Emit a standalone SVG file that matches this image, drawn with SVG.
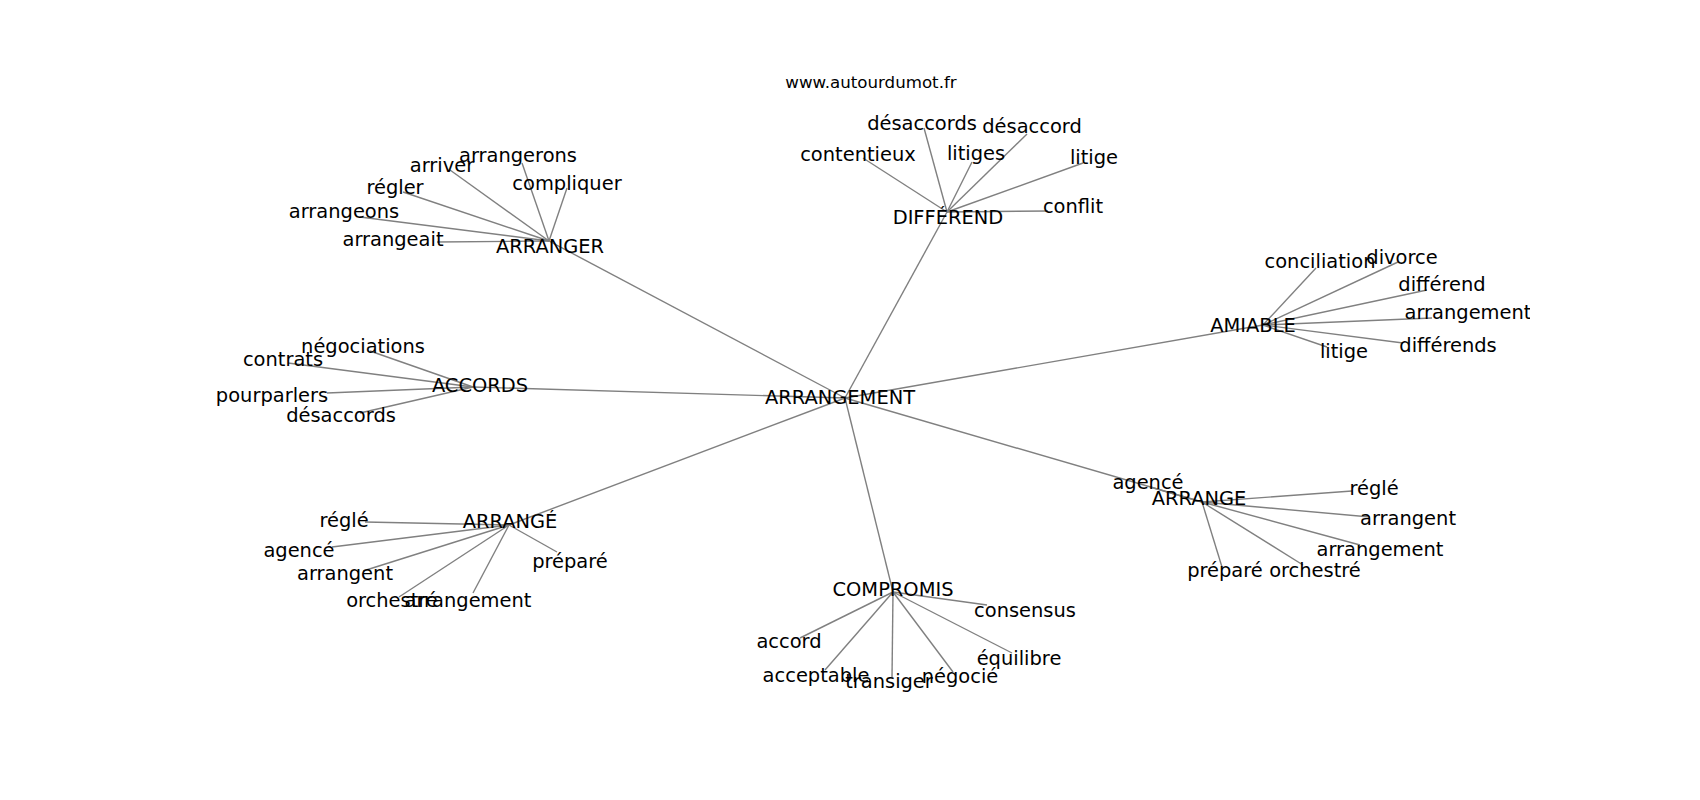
<svg xmlns="http://www.w3.org/2000/svg" width="1700" height="800" viewBox="0 0 1700 800">
<style>
  .edge { stroke: #808080; stroke-width: 1.4; fill: none; stroke-linecap: butt; }
  .lbl { font-family: "DejaVu Sans", "Liberation Sans", sans-serif; font-size: 19.44px; fill: #000; text-anchor: middle; }
  .title { font-family: "DejaVu Sans", "Liberation Sans", sans-serif; font-size: 16.67px; fill: #000; text-anchor: middle; }
</style>
<defs>
  <clipPath id="axes"><rect x="212.5" y="96" width="1317.5" height="616"/></clipPath>
</defs>
<rect x="0" y="0" width="1700" height="800" fill="#fff"/>
<text class="title" x="871" y="88">www.autourdumot.fr</text>
<g id="connectors" clip-path="url(#axes)">
  <!-- central -->
  <line class="edge" x1="845" y1="398" x2="549" y2="241"/>
  <line class="edge" x1="845" y1="398" x2="947" y2="212"/>
  <line class="edge" x1="845" y1="398" x2="1263" y2="325"/>
  <line class="edge" x1="845" y1="398" x2="473" y2="387"/>
  <line class="edge" x1="845" y1="398" x2="509" y2="525"/>
  <line class="edge" x1="845" y1="398" x2="893" y2="592"/>
  <line class="edge" x1="845" y1="398" x2="1202" y2="502"/>
  <!-- ARRANGER -->
  <line class="edge" x1="549" y1="241" x2="522" y2="163"/>
  <line class="edge" x1="549" y1="241" x2="450" y2="170"/>
  <line class="edge" x1="549" y1="241" x2="567" y2="188"/>
  <line class="edge" x1="549" y1="241" x2="403" y2="192"/>
  <line class="edge" x1="549" y1="241" x2="360" y2="217"/>
  <line class="edge" x1="549" y1="241" x2="437" y2="242"/>
  <!-- DIFFÉREND -->
  <line class="edge" x1="947" y1="212" x2="924" y2="128"/>
  <line class="edge" x1="947" y1="212" x2="1027" y2="134"/>
  <line class="edge" x1="947" y1="212" x2="863" y2="158"/>
  <line class="edge" x1="947" y1="212" x2="972" y2="162"/>
  <line class="edge" x1="947" y1="212" x2="1083" y2="163"/>
  <line class="edge" x1="947" y1="212" x2="1048" y2="211"/>
  <!-- AMIABLE -->
  <line class="edge" x1="1263" y1="325" x2="1316" y2="268"/>
  <line class="edge" x1="1263" y1="325" x2="1398" y2="262"/>
  <line class="edge" x1="1263" y1="325" x2="1427" y2="290"/>
  <line class="edge" x1="1263" y1="325" x2="1432" y2="318"/>
  <line class="edge" x1="1263" y1="325" x2="1403" y2="343"/>
  <line class="edge" x1="1263" y1="325" x2="1327" y2="347"/>
  <!-- ACCORDS -->
  <line class="edge" x1="473" y1="387" x2="370" y2="351"/>
  <line class="edge" x1="473" y1="387" x2="288" y2="363"/>
  <line class="edge" x1="473" y1="387" x2="327" y2="393"/>
  <line class="edge" x1="473" y1="387" x2="360" y2="413"/>
  <!-- ARRANGÉ -->
  <line class="edge" x1="509" y1="525" x2="365" y2="522"/>
  <line class="edge" x1="509" y1="525" x2="332" y2="547"/>
  <line class="edge" x1="509" y1="525" x2="363" y2="571"/>
  <line class="edge" x1="509" y1="525" x2="399" y2="597"/>
  <line class="edge" x1="509" y1="525" x2="473" y2="593"/>
  <line class="edge" x1="509" y1="525" x2="557" y2="552"/>
  <!-- COMPROMIS -->
  <line class="edge" x1="893" y1="592" x2="987" y2="605"/>
  <line class="edge" x1="893" y1="592" x2="800" y2="638"/>
  <line class="edge" x1="893" y1="592" x2="1012" y2="653"/>
  <line class="edge" x1="893" y1="592" x2="825" y2="670"/>
  <line class="edge" x1="893" y1="592" x2="892" y2="678"/>
  <line class="edge" x1="893" y1="592" x2="953" y2="672"/>
  <!-- ARRANGE -->
  <line class="edge" x1="1202" y1="502" x2="1150" y2="487"/>
  <line class="edge" x1="1202" y1="502" x2="1352" y2="491"/>
  <line class="edge" x1="1202" y1="502" x2="1370" y2="517"/>
  <line class="edge" x1="1202" y1="502" x2="1360" y2="545"/>
  <line class="edge" x1="1202" y1="502" x2="1222" y2="567"/>
  <line class="edge" x1="1202" y1="502" x2="1303" y2="565"/>
</g>
<g id="labels" clip-path="url(#axes)">
  <g id="n-arrangement"><text class="lbl" x="840" y="404">ARRANGEMENT</text></g>

  <g id="n-arranger"><text class="lbl" x="550" y="253">ARRANGER</text></g>
  <g id="n-arranger-arrangerons"><text class="lbl" x="518" y="162">arrangerons</text></g>
  <g id="n-arranger-arriver"><text class="lbl" x="442" y="172">arriver</text></g>
  <g id="n-arranger-compliquer"><text class="lbl" x="567" y="190">compliquer</text></g>
  <g id="n-arranger-regler"><text class="lbl" x="395" y="194">régler</text></g>
  <g id="n-arranger-arrangeons"><text class="lbl" x="344" y="218">arrangeons</text></g>
  <g id="n-arranger-arrangeait"><text class="lbl" x="393" y="246">arrangeait</text></g>

  <g id="n-differend"><text class="lbl" x="948" y="224">DIFFÉREND</text></g>
  <g id="n-differend-desaccords"><text class="lbl" x="922" y="130">désaccords</text></g>
  <g id="n-differend-desaccord"><text class="lbl" x="1032" y="133">désaccord</text></g>
  <g id="n-differend-contentieux"><text class="lbl" x="858" y="161">contentieux</text></g>
  <g id="n-differend-litiges"><text class="lbl" x="976" y="160">litiges</text></g>
  <g id="n-differend-litige"><text class="lbl" x="1094" y="164">litige</text></g>
  <g id="n-differend-conflit"><text class="lbl" x="1073" y="213">conflit</text></g>

  <g id="n-amiable"><text class="lbl" x="1253" y="332">AMIABLE</text></g>
  <g id="n-amiable-conciliation"><text class="lbl" x="1320" y="268">conciliation</text></g>
  <g id="n-amiable-divorce"><text class="lbl" x="1402" y="264">divorce</text></g>
  <g id="n-amiable-differend"><text class="lbl" x="1442" y="291">différend</text></g>
  <g id="n-amiable-arrangement"><text class="lbl" x="1468" y="319">arrangement</text></g>
  <g id="n-amiable-differends"><text class="lbl" x="1448" y="352">différends</text></g>
  <g id="n-amiable-litige"><text class="lbl" x="1344" y="358">litige</text></g>

  <g id="n-accords"><text class="lbl" x="480" y="392">ACCORDS</text></g>
  <g id="n-accords-negociations"><text class="lbl" x="363" y="353">négociations</text></g>
  <g id="n-accords-contrats"><text class="lbl" x="283" y="366">contrats</text></g>
  <g id="n-accords-pourparlers"><text class="lbl" x="272" y="402">pourparlers</text></g>
  <g id="n-accords-desaccords"><text class="lbl" x="341" y="422">désaccords</text></g>

  <g id="n-arrange-accent"><text class="lbl" x="510" y="528">ARRANGÉ</text></g>
  <g id="n-arrange-accent-regle"><text class="lbl" x="344" y="527">réglé</text></g>
  <g id="n-arrange-accent-agence"><text class="lbl" x="299" y="557">agencé</text></g>
  <g id="n-arrange-accent-arrangent"><text class="lbl" x="345" y="580">arrangent</text></g>
  <g id="n-arrange-accent-orchestre"><text class="lbl" x="392" y="607">orchestré</text></g>
  <g id="n-arrange-accent-arrangement"><text class="lbl" x="468" y="607">arrangement</text></g>
  <g id="n-arrange-accent-prepare"><text class="lbl" x="570" y="568">préparé</text></g>

  <g id="n-compromis"><text class="lbl" x="893" y="596">COMPROMIS</text></g>
  <g id="n-compromis-consensus"><text class="lbl" x="1025" y="617">consensus</text></g>
  <g id="n-compromis-accord"><text class="lbl" x="789" y="648">accord</text></g>
  <g id="n-compromis-equilibre"><text class="lbl" x="1019" y="665">équilibre</text></g>
  <g id="n-compromis-acceptable"><text class="lbl" x="816" y="682">acceptable</text></g>
  <g id="n-compromis-transiger"><text class="lbl" x="889" y="688">transiger</text></g>
  <g id="n-compromis-negocie"><text class="lbl" x="960" y="683">négocié</text></g>

  <g id="n-arrange"><text class="lbl" x="1199" y="505">ARRANGE</text></g>
  <g id="n-arrange-agence"><text class="lbl" x="1148" y="489">agencé</text></g>
  <g id="n-arrange-regle"><text class="lbl" x="1374" y="495">réglé</text></g>
  <g id="n-arrange-arrangent"><text class="lbl" x="1408" y="525">arrangent</text></g>
  <g id="n-arrange-arrangement"><text class="lbl" x="1380" y="556">arrangement</text></g>
  <g id="n-arrange-prepare"><text class="lbl" x="1225" y="577">préparé</text></g>
  <g id="n-arrange-orchestre"><text class="lbl" x="1315" y="577">orchestré</text></g>
</g>
</svg>
